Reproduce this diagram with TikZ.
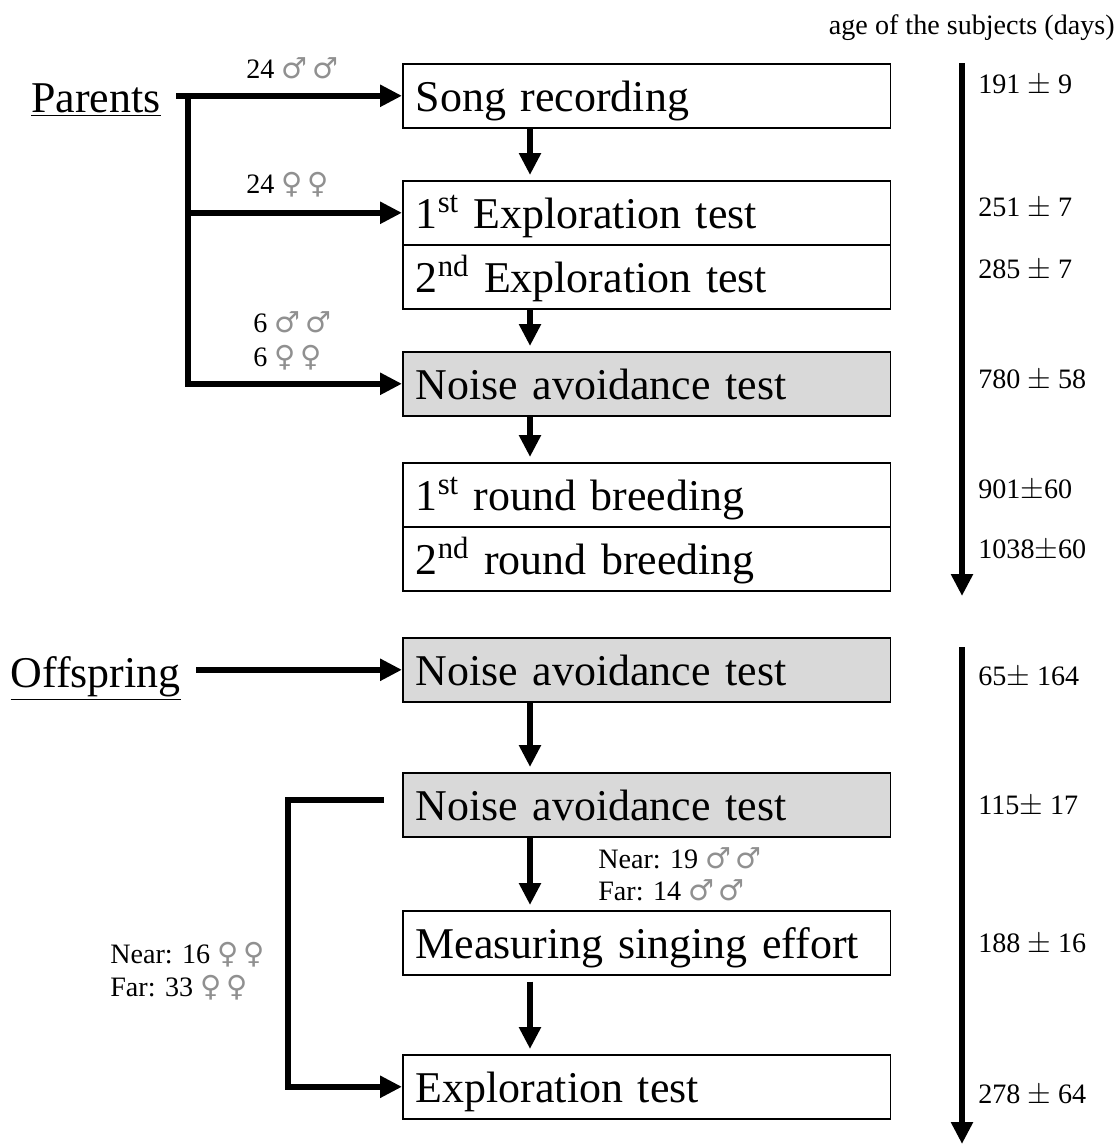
\documentclass[tikz,border=0pt]{standalone}
\usepackage{fontspec}
\setmainfont{Liberation Serif}
\newfontfamily\symfont{DejaVu Sans}
\usetikzlibrary{arrows.meta}
\definecolor{boxgray}{HTML}{D9D9D9}
\definecolor{symgray}{HTML}{909090}
\newcommand{\ml}{{\symfont\color{symgray}\fontsize{16.5}{18}\selectfont\symbol{"2642}}}
\newcommand{\fm}{{\symfont\color{symgray}\fontsize{16.5}{18}\selectfont\symbol{"2640}}}
\tikzset{
  stepbox/.style={draw, line width=0.9pt, minimum width=9.76cm, minimum height=1.28cm,
    text width=9.24cm, align=left, inner xsep=0.26cm, inner ysep=0.24cm,
    text height=0.72cm, text depth=0.08cm,
    font=\fontsize{25}{30}\selectfont, anchor=north west},
  graybox/.style={stepbox, fill=boxgray},
  bigtxt/.style={font=\fontsize{25}{30}\selectfont},
  smalltxt/.style={font=\fontsize{16}{19}\selectfont, inner sep=0},
  flow/.style={line width=3.2pt, line join=miter, -{Triangle[length=0.44cm,width=0.42cm]}},
  plain/.style={line width=3.2pt, line join=miter},
}
\begin{document}
\begin{tikzpicture}[x=0.02cm,y=-0.02cm]
\useasboundingbox (0,0) rectangle (1120,1144);
% boxes
\node[stepbox] (song) at (402,63) {Song recording};
\node[stepbox] (exp1) at (402,180) {1\textsuperscript{st} Exploration test};
\node[stepbox] (exp2) at (402,244) {2\textsuperscript{nd} Exploration test};
\node[graybox] (na1) at (402,351) {Noise avoidance test};
\node[stepbox] (br1) at (402,462) {1\textsuperscript{st} round breeding};
\node[stepbox] (br2) at (402,526) {2\textsuperscript{nd} round breeding};
\node[graybox] (na2) at (402,637) {Noise avoidance test};
\node[graybox] (na3) at (402,772) {Noise avoidance test};
\node[stepbox] (mse) at (402,910) {Measuring singing effort};
\node[stepbox] (ext) at (402,1054) {Exploration test};
% left labels
\node[bigtxt, anchor=base east, inner xsep=0.3cm, inner ysep=0] (par) at (176,112) {\underline{Parents}};
\node[bigtxt, anchor=base east, inner xsep=0.3cm, inner ysep=0] (off) at (196,687) {\underline{Offspring}};
% parents connectors
\coordinate (j) at (188,96);
\draw[flow] (par.east |- song.west) -- (song.west);
\draw[plain] (j) -- (188,213);
\draw[flow] (j) |- (exp1.west);
\draw[flow] (j) |- (na1.west);
\draw[flow] (off.east |- na2.west) -- (na2.west);
% down arrows
\draw[flow, shorten >=0.1cm] (song.south -| 530,0) -- (exp1.north -| 530,0);
\draw[flow, shorten >=0.1cm] (exp2.south -| 530,0) -- (na1.north -| 530,0);
\draw[flow, shorten >=0.1cm] (na1.south -| 530,0) -- (br1.north -| 530,0);
\draw[flow, shorten >=0.1cm] (na2.south -| 530,0) -- (na3.north -| 530,0);
\draw[flow, shorten >=0.1cm] (na3.south -| 530,0) -- (mse.north -| 530,0);
\draw[flow, shorten >=0.1cm, shorten <=0.12cm] (mse.south -| 530,0) -- (ext.north -| 530,0);
% bracket
\coordinate (bs) at (384,800);
\draw[flow] (bs) -- (288,800) |- (ext.west);
% counts
\node[smalltxt, anchor=west] (c1) at (246,68) {24 \ml\,\ml};
\node[smalltxt, anchor=west] (c2) at (246,185) {24 \fm\,\fm};
\node[smalltxt, anchor=west] (c3) at (253,322) {6 \ml\,\ml};
\node[smalltxt, anchor=west] (c4) at (253,358) {6 \fm\,\fm};
\node[smalltxt, anchor=west] (c5) at (598,858) {Near: 19 \ml\,\ml};
\node[smalltxt, anchor=west] (c6) at (598,890) {Far: 14 \ml\,\ml};
\node[smalltxt, anchor=west] (c7) at (110,955) {Near: 16 \fm\,\fm};
\node[smalltxt, anchor=west] (c8) at (110,988) {Far: 33 \fm\,\fm};
% timeline
\node[smalltxt, anchor=east] (age) at (1115,28) {age of the subjects (days)};
\coordinate (t1a) at (962,63);
\coordinate (t1b) at (962,596);
\coordinate (t2a) at (962,647);
\coordinate (t2b) at (962,1144);
\draw[flow] (t1a) -- (t1b);
\draw[flow] (t2a) -- (t2b);
\node[smalltxt, anchor=west] (a1) at (978,85) {191 $\pm$ 9};
\node[smalltxt, anchor=west] (a2) at (978,208) {251 $\pm$ 7};
\node[smalltxt, anchor=west] (a3) at (978,270) {285 $\pm$ 7};
\node[smalltxt, anchor=west] (a4) at (978,380) {780 $\pm$ 58};
\node[smalltxt, anchor=west] (a5) at (978,490) {901$\pm$60};
\node[smalltxt, anchor=west] (a6) at (978,550) {1038$\pm$60};
\node[smalltxt, anchor=west] (b1) at (978,677) {65$\pm$ 164};
\node[smalltxt, anchor=west] (b2) at (978,806) {115$\pm$ 17};
\node[smalltxt, anchor=west] (b3) at (978,944) {188 $\pm$ 16};
\node[smalltxt, anchor=west] (b4) at (978,1095) {278 $\pm$ 64};
\end{tikzpicture}
\end{document}
